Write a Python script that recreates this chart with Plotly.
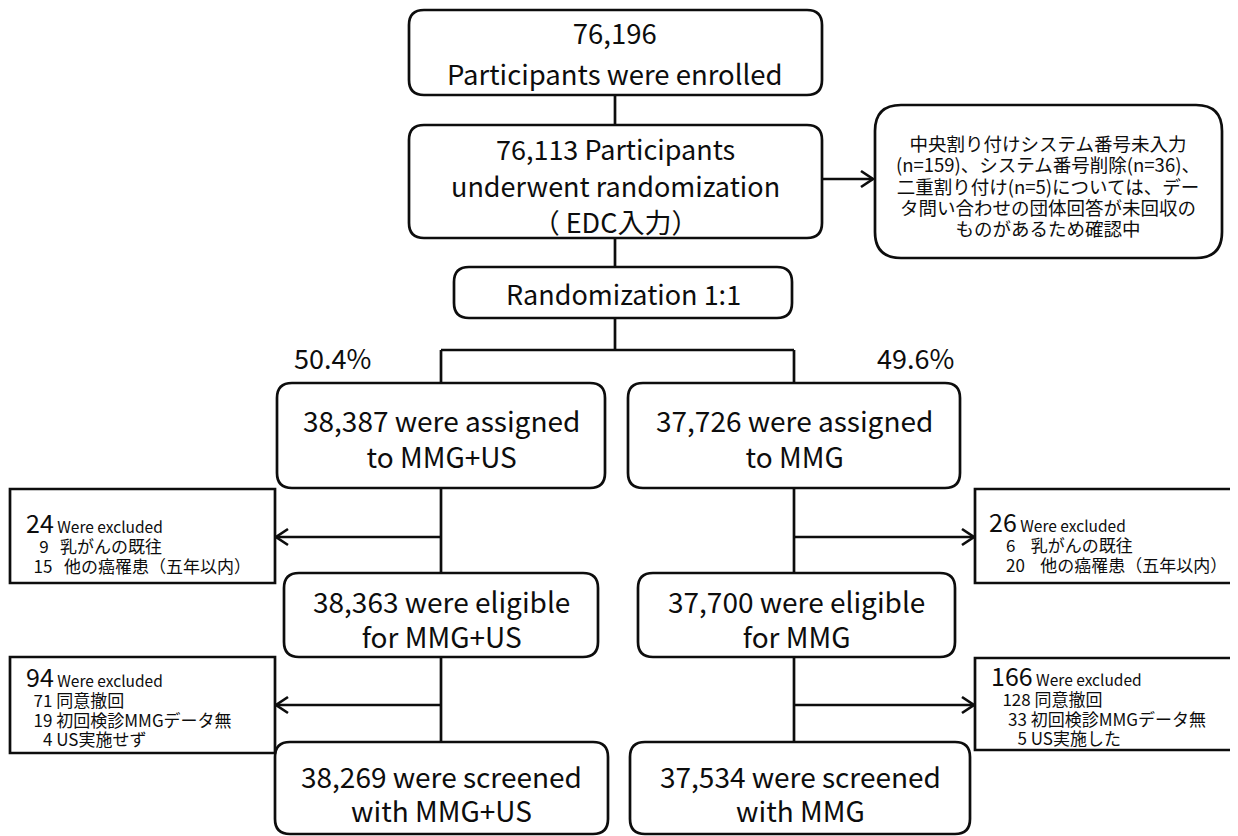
import plotly.graph_objects as go

# ---------------- data ----------------
enrolled = 76196
randomized = 76113
randomization_ratio = "1:1"
arm_names = ["MMG+US", "MMG"]
arm_pct = [50.4, 49.6]
assigned = [38387, 37726]
excl1_total = [24, 26]
excl1_reasons = ["乳がんの既往", "他の癌罹患（五年以内）"]
excl1_counts = [[9, 15], [6, 20]]
eligible = [38363, 37700]
excl2_total = [94, 166]
excl2_reasons = [["同意撤回", "初回検診MMGデータ無", "US実施せず"],
                 ["同意撤回", "初回検診MMGデータ無", "US実施した"]]
excl2_counts = [[71, 19, 4], [128, 33, 5]]
screened = [38269, 37534]
note_lines = ["中央割り付けシステム番号未入力",
              "(n=159)、システム番号削除(n=36)、",
              "二重割り付け(n=5)については、デー",
              "タ問い合わせの団体回答が未回収の",
              "ものがあるため確認中"]

# ---------------- layout helpers ----------------
W, H = 1238, 836
OFF = 8  # default page margin of the html body
FONT = "Noto Sans CJK JP"
INK = "#0d0d0d"
LW = 2.7
NB = "\u00a0"
FS = "\u2007"

fig = go.Figure()
fig.add_trace(go.Scatter(x=[100], y=[100], mode="markers", marker=dict(opacity=0),
                         hoverinfo="skip", showlegend=False))

shapes = []
annotations = []


def rbox(x0, y0, x1, y1, r=15):
    p = (f"M {x0+r},{y0} L {x1-r},{y0} Q {x1},{y0} {x1},{y0+r} "
         f"L {x1},{y1-r} Q {x1},{y1} {x1-r},{y1} L {x0+r},{y1} "
         f"Q {x0},{y1} {x0},{y1-r} L {x0},{y0+r} Q {x0},{y0} {x0+r},{y0} Z")
    shapes.append(dict(type="path", path=p, line=dict(color=INK, width=LW), fillcolor="white", layer="above"))


def sbox(x0, y0, x1, y1):
    shapes.append(dict(type="rect", x0=x0, y0=y0, x1=x1, y1=y1, line=dict(color=INK, width=LW),
                       fillcolor="white", layer="above"))


def line(x0, y0, x1, y1):
    shapes.append(dict(type="line", x0=x0, y0=y0, x1=x1, y1=y1, line=dict(color=INK, width=LW), layer="below"))


def arrow(x0, y, x1):
    line(x0, y, x1, y)
    d = 1 if x1 > x0 else -1
    p = f"M {x1-d*12},{y-8} L {x1},{y} L {x1-d*12},{y+8}"
    shapes.append(dict(type="path", path=p, line=dict(color=INK, width=LW), layer="above"))


def block(x, y, lines, glyph, spacing, anchor="center", align="center"):
    base = spacing / 1.3
    s = "<br>".join(f"<span style='font-size:{glyph}px'>{t}</span>" for t in lines)
    annotations.append(dict(x=x, y=y, text=s, showarrow=False, xanchor=anchor, yanchor="middle",
                            align=align, font=dict(family=FONT, size=base, color=INK)))


# ---------------- top part ----------------
CX = 615
line(CX, 95, CX, 125)
line(CX, 238, CX, 267)
line(CX, 318, CX, 350)

rbox(409, 10, 822, 95)
block(CX, 52, [f"{enrolled:,}", "Participants were enrolled"], 27.5, 41)

rbox(409, 125, 822, 238)
block(CX, 185, [f"{randomized:,} Participants", "underwent randomization", "（ EDC入力）"], 27, 36.5)

arrow(822, 179, 873)
rbox(875, 105, 1222, 258, r=26)
block(1048, 185, note_lines, 18.5, 21.3)

rbox(454, 267, 792, 318)
block(623, 293, [f"Randomization {randomization_ratio}"], 27, 35)

# ---------------- arms ----------------
cols = [441, 794]
line(cols[0], 350, cols[1], 350)
pct_x = [332, 915]
assigned_box = [(277, 383, 605, 488), (628, 383, 960, 488)]
eligible_box = [(284, 573, 598, 657), (638, 573, 955, 657)]
screened_box = [(275, 742, 608, 834), (630, 742, 970, 834)]
ex1_box = [(10, 489, 275, 583), (975, 489, 1236, 583)]
ex2_box = [(10, 657, 275, 753), (975, 658, 1236, 750)]

for k in range(2):
    cx = cols[k]
    line(cx, 350, cx, 383)
    line(cx, 488, cx, 573)
    line(cx, 657, cx, 742)
    block(pct_x[k], 357, [f"{arm_pct[k]}%"], 27, 35)

    b = assigned_box[k]
    rbox(*b)
    block((b[0] + b[2]) / 2, 438, [f"{assigned[k]:,} were assigned", f"to {arm_names[k]}"], 28, 36)

    b = eligible_box[k]
    rbox(*b)
    block((b[0] + b[2]) / 2, 618.5, [f"{eligible[k]:,} were eligible", f"for {arm_names[k]}"], 28, 35)

    b = screened_box[k]
    rbox(*b)
    block((b[0] + b[2]) / 2, 792.5, [f"{screened[k]:,} were screened", f"with {arm_names[k]}"], 28, 34)

    b1 = ex1_box[k]
    b2 = ex2_box[k]
    if k == 0:
        arrow(cx, 537, b1[2] + 1)
        arrow(cx, 705, b2[2] + 1)
    else:
        arrow(cx, 537, b1[0] - 1)
        arrow(cx, 705, b2[0] - 1)
    sbox(*b1)
    sbox(*b2)


def head(n):
    return (f"<span style='font-size:25px'>{n}</span>"
            f"<span style='font-size:15.5px'> Were excluded</span>")


def sub(t):
    return f"<span style='font-size:17px'>{t}</span>"


def exbox(x, y, lines):
    s = "<br>".join(lines)
    annotations.append(dict(x=x, y=y, text=s, showarrow=False, xanchor="left", yanchor="middle",
                            align="left", font=dict(family=FONT, size=15.2, color=INK)))


# left arm exclusions
exbox(24, 541, [
    head(excl1_total[0]),
    sub(f"{FS}{NB}{excl1_counts[0][0]}{NB}{NB}{NB}{excl1_reasons[0]}"),
    sub(f"{NB}{NB}{excl1_counts[0][1]}{NB}{NB}{NB}{excl1_reasons[1]}"),
])
exbox(24, 704, [
    head(excl2_total[0]),
    sub(f"{NB}{NB}{excl2_counts[0][0]} {excl2_reasons[0][0]}"),
    sub(f"{NB}{NB}{excl2_counts[0][1]} {excl2_reasons[0][1]}"),
    sub(f"{NB}{NB}{FS}{excl2_counts[0][2]} {excl2_reasons[0][2]}"),
])

# right arm exclusions
exbox(987, 540, [
    head(excl1_total[1]),
    sub(f"{FS}{NB}{NB}{excl1_counts[1][0]}{NB}{NB}{NB}{NB}{excl1_reasons[0]}"),
    sub(f"{FS}{NB}{NB}{excl1_counts[1][1]}{NB}{NB}{NB}{NB}{excl1_reasons[1]}"),
])
exbox(989, 703, [
    head(excl2_total[1]),
    sub(f"{NB}{NB}{NB}{excl2_counts[1][0]} {excl2_reasons[1][0]}"),
    sub(f"{NB}{NB}{FS}{excl2_counts[1][1]} {excl2_reasons[1][1]}"),
    sub(f"{NB}{NB}{FS}{FS}{excl2_counts[1][2]} {excl2_reasons[1][2]}"),
])

fig.update_layout(
    width=W - OFF, height=H - OFF,
    margin=dict(l=0, r=0, t=0, b=0),
    paper_bgcolor="white", plot_bgcolor="white",
    xaxis=dict(range=[OFF, W], visible=False, fixedrange=True),
    yaxis=dict(range=[H, OFF], visible=False, fixedrange=True),
    shapes=shapes, annotations=annotations, showlegend=False,
)
fig.write_html("out.html")
